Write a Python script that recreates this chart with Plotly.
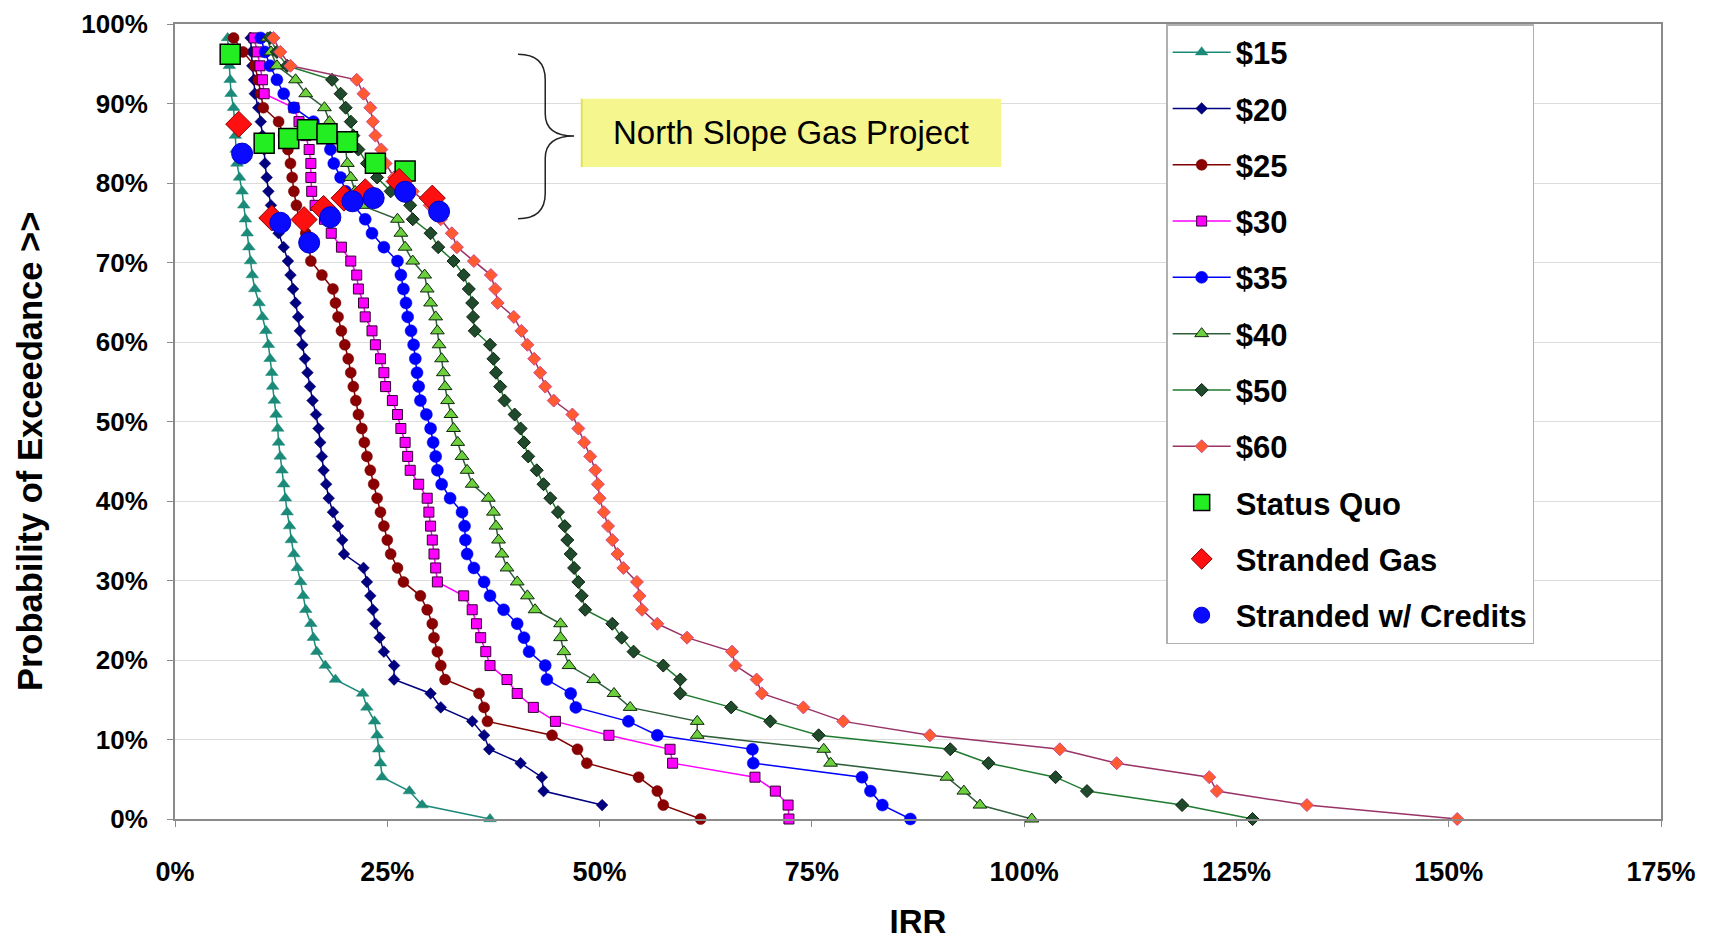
import plotly.graph_objects as go

# Probability of exceedance levels (%)
PROB = [0.00, 1.75, 3.51, 5.26, 7.02, 8.77, 10.53, 12.28, 14.04, 15.79, 17.54, 19.30, 21.05, 22.81,
        24.56, 26.32, 28.07, 29.82, 31.58, 33.33, 35.09, 36.84, 38.60, 40.35, 42.11, 43.86, 45.61,
        47.37, 49.12, 50.88, 52.63, 54.39, 56.14, 57.89, 59.65, 61.40, 63.16, 64.91, 66.67, 68.42,
        70.18, 71.93, 73.68, 75.44, 77.19, 78.95, 80.70, 82.46, 84.21, 85.96, 87.72, 89.47, 91.23,
        92.98, 94.74, 96.49, 98.25]

# IRR (%) for each gas price scenario at each probability level
IRR_15 = [37.1, 29.1, 27.6, 24.4, 24.2, 24.0, 23.8, 23.5, 22.6, 22.1, 18.9, 17.7, 16.7, 16.3, 16.0,
          15.4, 15.1, 14.8, 14.4, 14.0, 13.7, 13.5, 13.2, 13.0, 12.8, 12.6, 12.4, 12.2, 12.1, 11.9,
          11.7, 11.5, 11.4, 11.2, 11.0, 10.7, 10.3, 9.9, 9.4, 9.1, 8.9, 8.7, 8.5, 8.3, 8.1, 7.9, 7.6,
          7.3, 7.2, 7.1, 7.0, 6.9, 6.6, 6.5, 6.4, 6.3, 6.2]
IRR_20 = [None, 50.3, 43.4, 43.2, 40.7, 37.0, 36.4, 35.0, 31.3, 30.1, 25.8, 25.8, 24.6, 24.1, 23.6,
          23.3, 23.0, 22.6, 22.2, 19.9, 19.7, 19.2, 18.6, 18.1, 17.8, 17.5, 17.3, 17.1, 16.9, 16.6,
          16.2, 15.9, 15.6, 15.3, 15.0, 14.7, 14.5, 14.2, 13.9, 13.6, 13.3, 12.8, 12.2, 11.6, 11.3,
          11.0, 10.8, 10.6, 10.5, 10.3, 10.1, 9.8, 9.4, 9.3, 9.1, 9.0, 8.9]
IRR_25 = [61.9, 57.5, 56.8, 54.6, 48.5, 47.4, 44.4, 36.8, 36.4, 35.8, 31.8, 31.3, 30.9, 30.5, 30.3,
          29.7, 28.9, 26.9, 26.2, 25.4, 25.0, 24.6, 24.2, 23.8, 23.4, 23.0, 22.6, 22.3, 22.0, 21.6,
          21.3, 21.0, 20.7, 20.4, 20.0, 19.6, 19.2, 18.9, 18.6, 17.3, 16.0, 15.8, 15.4, 14.6, 14.3,
          14.0, 13.8, 13.6, 13.3, 12.8, 12.2, 10.4, 10.1, 9.8, 9.4, 8.0, 6.9]
IRR_30 = [72.3, 72.2, 70.7, 68.3, 58.6, 58.3, 51.1, 44.8, 42.2, 40.3, 39.1, 37.1, 36.6, 36.0, 35.5,
          35.0, 34.0, 30.9, 30.7, 30.5, 30.3, 30.1, 29.9, 29.7, 28.7, 27.7, 27.4, 27.1, 26.6, 26.2,
          25.6, 24.8, 24.6, 24.2, 23.6, 23.2, 22.4, 22.2, 21.6, 21.4, 20.7, 19.6, 18.4, 17.6, 16.5,
          16.1, 16.0, 16.0, 15.8, 15.4, 14.6, 14.0, 10.5, 10.3, 10.0, 9.7, 9.3]
IRR_35 = [86.6, 83.3, 81.9, 80.9, 68.1, 68.0, 56.8, 53.4, 47.2, 46.6, 43.8, 43.6, 41.7, 41.1, 40.3,
          38.7, 37.1, 36.4, 35.2, 34.4, 34.2, 34.1, 33.8, 32.4, 31.4, 30.9, 30.7, 30.4, 30.1, 29.6,
          28.9, 28.7, 28.5, 28.3, 28.1, 27.8, 27.4, 27.2, 26.9, 26.6, 26.2, 24.6, 23.2, 22.4, 21.0,
          20.1, 19.5, 18.7, 18.3, 17.2, 16.3, 14.0, 12.8, 12.0, 11.2, 10.6, 10.1]
IRR_40 = [100.9, 94.8, 92.9, 90.9, 77.2, 76.4, 61.5, 61.5, 53.6, 51.7, 49.3, 46.4, 45.8, 45.4, 45.4,
          42.4, 41.5, 40.3, 39.1, 38.5, 38.1, 37.8, 37.5, 36.9, 35.0, 34.4, 33.8, 33.3, 32.8, 32.5,
          32.1, 31.8, 31.6, 31.4, 31.1, 30.9, 30.7, 30.1, 29.7, 29.4, 28.0, 27.1, 26.6, 26.2, 22.0,
          21.2, 20.7, 20.3, 20.1, 18.8, 18.2, 17.6, 15.4, 14.2, 12.0, 11.3, 10.9]
IRR_50 = [126.9, 118.6, 107.4, 103.7, 95.8, 91.3, 75.8, 70.1, 65.5, 59.5, 59.5, 57.5, 54.0, 52.6, 51.5,
          48.3, 47.9, 47.5, 47.0, 46.6, 46.2, 45.9, 45.1, 44.2, 43.4, 42.6, 41.6, 41.1, 40.7, 40.0,
          38.8, 38.3, 37.8, 37.5, 37.1, 35.3, 35.1, 35.0, 34.6, 34.0, 32.8, 31.0, 30.1, 28.0, 27.7,
          25.4, 23.8, 22.6, 21.6, 21.0, 20.7, 20.1, 19.5, 18.5, 13.2, 12.0, 11.2]
IRR_60 = [151.0, 133.3, 122.7, 121.8, 110.9, 104.2, 88.9, 78.7, 74.0, 69.1, 68.5, 66.0, 65.6, 60.3, 56.8,
          55.0, 54.7, 54.4, 52.8, 52.1, 51.5, 51.0, 50.5, 50.0, 49.8, 49.5, 48.9, 48.2, 47.5, 46.8,
          44.6, 43.6, 43.0, 42.3, 41.5, 40.8, 39.9, 38.0, 37.7, 37.2, 35.2, 33.2, 32.6, 31.3, 30.0,
          28.0, 25.8, 24.8, 24.3, 23.6, 23.3, 23.0, 22.2, 21.4, 13.6, 12.4, 11.6]

# North Slope Gas Project cases
SQ_X = [6.5, 10.5, 13.4, 15.6, 17.9, 20.3, 23.6, 27.1]
SQ_Y = [96.2, 85.0, 85.6, 86.7, 86.2, 85.2, 82.5, 81.5]
SG_X = [7.5, 11.4, 15.2, 17.5, 19.9, 22.4, 26.4, 30.3]
SG_Y = [87.4, 75.6, 75.4, 76.8, 78.1, 78.9, 80.2, 78.1]
SC_X = [7.9, 12.4, 15.8, 18.3, 20.9, 23.4, 27.1, 31.1]
SC_Y = [83.7, 75.0, 72.5, 75.7, 77.7, 78.1, 78.9, 76.4]

X_TICKS = [0, 25, 50, 75, 100, 125, 150, 175]
X_TICK_TEXT = ["0%", "25%", "50%", "75%", "100%", "125%", "150%", "175%"]
Y_TICKS = [0, 10, 20, 30, 40, 50, 60, 70, 80, 90, 100]
Y_TICK_TEXT = ["0%", "10%", "20%", "30%", "40%", "50%", "60%", "70%", "80%", "90%", "100%"]

FONT = "Liberation Sans, Arial, sans-serif"

series = [
    ("$15", IRR_15, "#1b8a78", dict(symbol="triangle-up", size=11, color="#1b8a78", line=dict(color="#1b8a78", width=0.5))),
    ("$20", IRR_20, "#000080", dict(symbol="diamond", size=9, color="#000080", line=dict(color="#000060", width=0.5))),
    ("$25", IRR_25, "#800000", dict(symbol="circle", size=11, color="#8b0000", line=dict(color="#700000", width=0.5))),
    ("$30", IRR_30, "#ff00ff", dict(symbol="square", size=10, color="#ff00ff", line=dict(color="#300030", width=1))),
    ("$35", IRR_35, "#0000ff", dict(symbol="circle", size=12, color="#0000ff", line=dict(color="#0000ee", width=0.5))),
    ("$40", IRR_40, "#2e5e3a", dict(symbol="triangle-up", size=12, color="#6ccf3c", line=dict(color="#102810", width=1))),
    ("$50", IRR_50, "#1e7a2e", dict(symbol="diamond", size=10, color="#1f4a2c", line=dict(color="#0e200e", width=1))),
    ("$60", IRR_60, "#993366", dict(symbol="diamond", size=10, color="#ff5a30", line=dict(color="#d04a8a", width=1))),
]

fig = go.Figure()
for name, vals, lc, mk in series:
    xs = [v for v in vals if v is not None]
    ys = [p for v, p in zip(vals, PROB) if v is not None]
    fig.add_trace(go.Scatter(
        x=xs, y=ys, name=name, mode="lines+markers", legendgroup=name,
        line=dict(color=lc, width=1.5), marker=mk, cliponaxis=False))

fig.add_trace(go.Scatter(
    x=SQ_X, y=SQ_Y, name="Status Quo", mode="markers", legendgroup="sq",
    marker=dict(symbol="square", size=20, color="#22ee22", line=dict(color="#000000", width=1.5)),
    cliponaxis=False))
fig.add_trace(go.Scatter(
    x=SG_X, y=SG_Y, name="Stranded Gas", mode="markers", legendgroup="sg",
    marker=dict(symbol="diamond", size=20, color="#ff1010", line=dict(color="#8b0000", width=1)),
    cliponaxis=False))
fig.add_trace(go.Scatter(
    x=SC_X, y=SC_Y, name="Stranded w/ Credits", mode="markers", legendgroup="sc",
    marker=dict(symbol="circle", size=21, color="#0a0aff", line=dict(color="#0000cc", width=1)),
    cliponaxis=False))

# Curly brace bracketing the project cases
fig.add_shape(type="path", xref="x", yref="y",
              path="M 40.4,96.2 Q 43.6,96.2 43.6,93.0 L 43.6,88.7 Q 43.6,85.9 47.0,85.9 "
                   "Q 43.6,85.9 43.6,83.1 L 43.6,78.7 Q 43.6,75.5 40.4,75.5",
              line=dict(color="#222222", width=1.5))
# Yellow label box
fig.add_shape(type="rect", xref="x", yref="y", x0=47.9, x1=97.3, y0=82.0, y1=90.6,
              fillcolor="#f6f68e", line=dict(width=0), layer="above")
fig.add_shape(type="line", xref="x", yref="y", x0=47.9, x1=47.9, y0=82.0, y1=90.6,
              line=dict(color="#e0e060", width=2))
fig.add_annotation(x=72.6, y=86.3, xref="x", yref="y", text="North Slope Gas Project",
                   showarrow=False, font=dict(family=FONT, size=33, color="#000000"))

# Y-axis title placed as a rotated annotation so it sits where the reference has it
fig.add_annotation(x=-0.098, y=0.462, xref="paper", yref="paper", xanchor="center", yanchor="middle",
                   text="Probability of Exceedance >>", textangle=-90, showarrow=False,
                   font=dict(family=FONT, size=34.5, color="#000000", weight="bold"))

# The page body adds an 8px offset; margins compensate so the plot area lands where the reference has it
fig.update_layout(
    width=1710, height=939,
    margin=dict(l=166.5, r=57, t=15.5, b=127.5),
    paper_bgcolor="#ffffff", plot_bgcolor="#ffffff",
    font=dict(family=FONT, color="#000000"),
    showlegend=True,
    legend=dict(
        x=0.667, y=1.0, xanchor="left", yanchor="top",
        bgcolor="#ffffff", bordercolor="#b0b0b0", borderwidth=1.5,
        font=dict(family=FONT, size=31, color="#000000", weight="bold"),
        traceorder="grouped", tracegroupgap=13, itemwidth=58,
    ),
)
fig.update_xaxes(
    range=[0, 175], tickmode="array", tickvals=X_TICKS, ticktext=X_TICK_TEXT,
    showgrid=False, zeroline=False, automargin=False, ticklabeloverflow="allow",
    showline=True, linecolor="#8a8a8a", linewidth=2, mirror=True,
    ticks="outside", ticklen=6, tickcolor="#8a8a8a", ticklabelstandoff=22,
    tickfont=dict(family=FONT, size=27, color="#000000", weight="bold"),
    title=dict(text="IRR", standoff=23, font=dict(family=FONT, size=33, color="#000000", weight="bold")),
)
fig.update_yaxes(
    range=[0, 100], tickmode="array", tickvals=Y_TICKS, ticktext=Y_TICK_TEXT,
    showgrid=True, gridcolor="#dcdcdc", gridwidth=1, zeroline=False, automargin=False,
    ticklabeloverflow="allow",
    showline=True, linecolor="#8a8a8a", linewidth=2, mirror=True,
    ticks="outside", ticklen=6, tickcolor="#8a8a8a", ticklabelstandoff=14,
    tickfont=dict(family=FONT, size=26, color="#000000", weight="bold"),
)

fig.write_html("out.html")
